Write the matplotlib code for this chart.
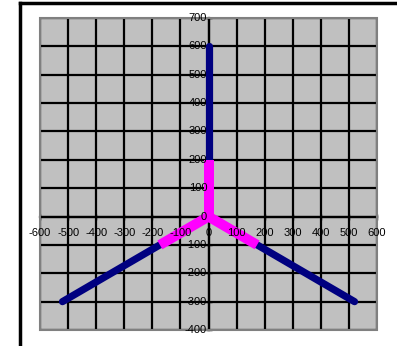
import matplotlib.pyplot as plt
from matplotlib.lines import Line2D
from matplotlib.patches import Rectangle

plt.rcParams['font.family'] = ['Liberation Sans', 'DejaVu Sans']

# arm end points, every arm starts at the origin
centre = (0, 0)
outer_x = [0, -520, 520]
outer_y = [600, -300, -300]
inner_x = [0, -173, 173]
inner_y = [200, -100, -100]

x_ticks = [-600, -500, -400, -300, -200, -100, 0, 100, 200, 300, 400, 500, 600]
y_ticks = [-400, -300, -200, -100, 0, 100, 200, 300, 400, 500, 600, 700]

fig = plt.figure(figsize=(3.97, 3.46), dpi=100)
ax = fig.add_axes([40 / 397, 16 / 346, 337 / 397, 312 / 346])
ax.set_facecolor('#c0c0c0')
ax.set_xlim(-600, 600)
ax.set_ylim(-400, 700)
ax.set_xticks(x_ticks)
ax.set_yticks(y_ticks)
ax.grid(True, color='black', linewidth=1.6)

for side in ['top', 'right']:
    ax.spines[side].set_visible(False)
ax.spines['left'].set_position(('data', 0))
ax.spines['bottom'].set_position(('data', 0))
for side in ['left', 'bottom']:
    ax.spines[side].set_color('black')
    ax.spines[side].set_linewidth(1.6)
    ax.spines[side].set_zorder(1)

ax.tick_params(direction='inout', length=5, width=1,
               labelbottom=False, labelleft=False)

for ex, ey in zip(outer_x, outer_y):
    ax.plot([centre[0], ex], [centre[1], ey], color='#000080', lw=5.2,
            solid_capstyle='round', zorder=3)
for ex, ey in zip(inner_x, inner_y):
    ax.plot([centre[0], ex], [centre[1], ey], color='#ff00ff', lw=7.2,
            solid_capstyle='butt', zorder=4)

# tick labels sit on top of the data, like in the spreadsheet chart
for v in x_ticks:
    ax.annotate(str(v), (v, 0), xytext=(0, -8), textcoords='offset points',
                ha='center', va='top', fontsize=8, zorder=6)
for v in y_ticks:
    ax.annotate(str(v), (0, v), xytext=(-1, 0), textcoords='offset points',
                ha='right', va='center', fontsize=8, zorder=6)

ax.add_patch(Rectangle((0, 0), 1, 1, transform=ax.transAxes, fill=False,
                       edgecolor='#808080', lw=1.5, clip_on=False, zorder=5))

# chart frame
fig.add_artist(Line2D([20 / 397, 20 / 397], [0, 1 - 3 / 346], color='black', lw=2.5))
fig.add_artist(Line2D([20 / 397, 1], [1 - 3 / 346, 1 - 3 / 346], color='black', lw=2.5))

fig.savefig('out.png', dpi=100)
